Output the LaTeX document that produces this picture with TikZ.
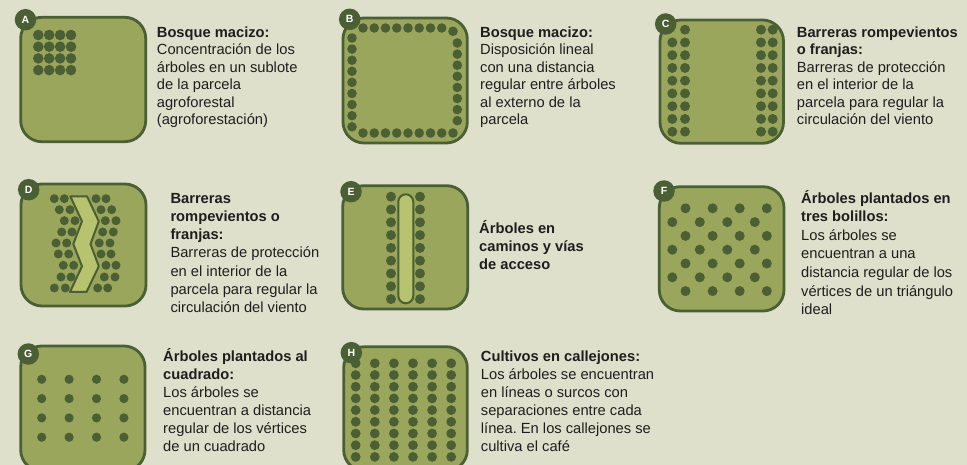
\documentclass[tikz,border=0pt]{standalone}
\usepackage{fontspec}
\setmainfont{Liberation Sans}
\frenchspacing
\definecolor{bgc}{HTML}{DFE0CC}
\definecolor{plotc}{HTML}{9AA65C}
\definecolor{dkg}{HTML}{4B5F34}
\definecolor{lightg}{HTML}{B7C36E}
\definecolor{txt}{HTML}{1E1E1E}
\tikzset{
  plotbox/.style={draw=dkg, line width=2.8pt, fill=plotc, rounded corners=21pt},
  tree/.style={fill=dkg},
  badge/.style={circle, fill=dkg, minimum size=21.5pt, inner sep=0pt, text=white, font=\bfseries\fontsize{10.5}{10.5}\selectfont},
  desc/.style={anchor=north west, inner sep=0pt, align=left, text=txt, font=\fontsize{14.7}{#1}\selectfont},
  lane/.style={draw=dkg, line width=2pt, fill=lightg, line join=round}
}
\begin{document}
\begin{tikzpicture}[x=1pt,y=-1pt]
\clip (0,0) rectangle (967,465);
\fill[bgc] (0,0) rectangle (967,465);

% ---------- A ----------
\draw[plotbox] (20.7,17.3) rectangle (145.7,141.7);
\foreach \c in {0,...,3} \foreach \r in {0,...,3}
  \fill[tree] ({38.3+10.9*\c},{35+11.7*\r}) circle[radius=5.3pt];
\node[badge] (bA) at (25.5,19.7) {A};
\node[desc=17.5] (tA) at (156.7,22.3) {\rule{0pt}{15pt}\textbf{Bosque macizo:}\\Concentración de los\\árboles en un sublote\\de la parcela\\agroforestal\\(agroforestación)};

% ---------- B ----------
\draw[plotbox] (343,18) rectangle (467.3,143);
\foreach \i in {0,...,7} \fill[tree] ({363+11.25*\i},28) circle[radius=4.8pt];
\fill[tree] (453,31.3) circle[radius=4.8pt];
\foreach \i in {0,...,7} \fill[tree] (457.3,{43+11.1*\i}) circle[radius=4.8pt];
\foreach \i in {0,...,8} \fill[tree] ({363+11.25*\i},133) circle[radius=4.8pt];
\foreach \i in {0,...,8} \fill[tree] (352,{38+11.1*\i}) circle[radius=4.8pt];
\node[badge] (bB) at (349.7,19.3) {B};
\node[desc=17.5] (tB) at (480,22.3) {\rule{0pt}{15pt}\textbf{Bosque macizo:}\\Disposición lineal\\con una distancia\\regular entre árboles\\al externo de la\\parcela};

% ---------- C ----------
\draw[plotbox] (660,20) rectangle (783.5,143.3);
\foreach \i in {1,...,8} \fill[tree] (672.3,{29.7+12.75*\i}) circle[radius=5pt];
\foreach \i in {0,...,8} {
  \fill[tree] (685,{29.7+12.75*\i}) circle[radius=5pt];
  \fill[tree] (761,{29.7+12.75*\i}) circle[radius=5pt];
  \fill[tree] (772.7,{29.7+12.75*\i}) circle[radius=5pt];
}
\node[badge] (bC) at (665.7,24) {C};
\node[desc=17.5] (tC) at (796.7,22.3) {\rule{0pt}{15pt}\textbf{Barreras rompevientos}\\\textbf{o franjas:}\\Barreras de protección\\en el interior de la\\parcela para regular la\\circulación del viento};

% ---------- D ----------
\draw[plotbox] (21,184) rectangle (146,306);
\draw[lane] (70.3,196.3) -- (82,221.3) -- (73.3,244) -- (82,266.3) -- (70,292)
  -- (86.5,292) -- (98.8,266.3) -- (90.5,244) -- (98.8,221.3) -- (87,196.3) -- cycle;
\foreach \y/\a/\b/\c/\d in {198.7/54.3/64.3/96/106, 209.7/59.3/70/101/111.7,
  220.7/64.3/75/105.3/116, 232/61.7/72/102.7/113.3, 243/56/66.7/99.3/110,
  254/58.3/68.7/101/111, 265.3/63.3/73.7/106/116, 277/61/71/104.3/115,
  288/54.3/65.3/97.7/107.7} {
  \fill[tree] (\a,\y) circle[radius=4.5pt];
  \fill[tree] (\b,\y) circle[radius=4.5pt];
  \fill[tree] (\c,\y) circle[radius=4.5pt];
  \fill[tree] (\d,\y) circle[radius=4.5pt];
}
\node[badge] (bD) at (28.7,189.7) {D};
\node[desc=18.2] (tD) at (170.3,188) {\rule{0pt}{15pt}\textbf{Barreras}\\\textbf{rompevientos o}\\\textbf{franjas:}\\Barreras de protección\\en el interior de la\\parcela para regular la\\circulación del viento};

% ---------- E ----------
\draw[plotbox] (342.7,185.7) rectangle (467.7,309);
\draw[lane, rounded corners=7.5pt] (398.3,194.3) rectangle (413.3,303.3);
\foreach \i in {0,...,8} {
  \fill[tree] (391,{196.7+12.8*\i}) circle[radius=5pt];
  \fill[tree] (420,{196.7+12.8*\i}) circle[radius=5pt];
}
\node[badge] (bE) at (351,191.7) {E};
\node[desc=18] (tE) at (479,218) {\rule{0pt}{15pt}\textbf{Árboles en}\\\textbf{caminos y vías}\\\textbf{de acceso}};

% ---------- F ----------
\draw[plotbox] (659.3,186.7) rectangle (784,311);
\foreach \r in {0,2,4,6} \foreach \c in {0,...,3}
  \fill[tree] ({685.5+27.1*\c},{208.3+13.8*\r}) circle[radius=5pt];
\foreach \r in {1,3,5} \foreach \c in {0,...,3}
  \fill[tree] ({672.3+27.5*\c},{208.3+13.8*\r}) circle[radius=5pt];
\node[badge] (bF) at (664,191) {F};
\node[desc=18.6] (tF) at (801,188) {\rule{0pt}{15pt}\textbf{Árboles plantados en}\\\textbf{tres bolillos:}\\Los árboles se\\encuentran a una\\distancia regular de los\\vértices de un triángulo\\ideal};

% ---------- G ----------
\draw[plotbox] (20.7,346) rectangle (145,471);
\foreach \r in {0,...,3} \foreach \c in {0,...,3}
  \fill[tree] ({41.7+27.4*\c},{379.3+19.3*\r}) circle[radius=4.6pt];
\node[badge] (bG) at (28.3,354) {G};
\node[desc=18.1] (tG) at (163,346) {\rule{0pt}{15pt}\textbf{Árboles plantados al}\\\textbf{cuadrado:}\\Los árboles se\\encuentran a distancia\\regular de los vértices\\de un cuadrado};

% ---------- H ----------
\draw[plotbox] (343.7,346.7) rectangle (467.3,471);
\foreach \r in {0,...,8} \foreach \c in {0,...,5}
  \fill[tree] ({355.7+19.1*\c},{363.3+11.7*\r}) circle[radius=4.9pt];
\node[badge] (bH) at (351.3,352.7) {H};
\node[desc=18.1] (tH) at (480.7,346) {\rule{0pt}{15pt}\textbf{Cultivos en callejones:}\\Los árboles se encuentran\\en líneas o surcos con\\separaciones entre cada\\línea. En los callejones se\\cultiva el café};
\end{tikzpicture}
\end{document}
